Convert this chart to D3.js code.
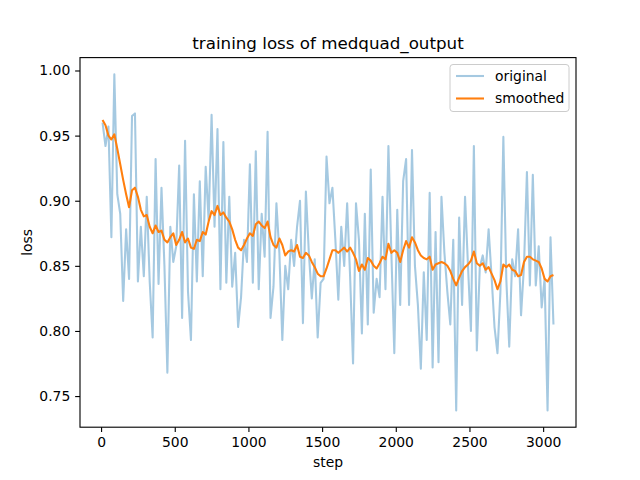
<!DOCTYPE html>
<html><head><meta charset="utf-8">
<script src="https://cdn.jsdelivr.net/npm/d3@7"></script>
<style>body{margin:0;background:#fff}svg{display:block}text{font-family:"DejaVu Sans",sans-serif}</style>
</head><body><svg id="c" width="640" height="480"></svg>
<script>
const titleText = "training loss of medquad_output";
const xLabel = "step";
const yLabel = "loss";
const stepStart = 10, stepEvery = 20;
const original = [
0.960,0.942,0.957,0.872,0.997,0.905,0.890,0.823,0.878,0.840,
0.965,0.967,0.838,0.880,0.842,0.903,0.838,0.795,0.932,0.836,
0.910,0.850,0.768,0.880,0.853,0.865,0.927,0.810,0.946,0.830,
0.793,0.905,0.838,0.915,0.842,0.926,0.885,0.966,0.880,0.955,
0.832,0.945,0.837,0.903,0.834,0.860,0.803,0.826,0.870,0.853,
0.928,0.837,0.938,0.832,0.890,0.857,0.953,0.810,0.834,0.898,
0.860,0.793,0.850,0.832,0.870,0.850,0.880,0.900,0.806,0.907,
0.860,0.825,0.855,0.795,0.837,0.840,0.934,0.898,0.910,0.870,
0.824,0.880,0.850,0.898,0.842,0.775,0.898,0.870,0.798,0.890,
0.805,0.924,0.814,0.840,0.826,0.903,0.832,0.942,0.860,0.783,
0.893,0.820,0.915,0.932,0.820,0.939,0.850,0.820,0.771,0.845,
0.793,0.906,0.772,0.876,0.776,0.903,0.860,0.830,0.805,0.870,
0.739,0.887,0.820,0.903,0.850,0.800,0.942,0.785,0.849,0.858,
0.845,0.878,0.842,0.803,0.783,0.830,0.949,0.840,0.788,0.855,
0.842,0.878,0.812,0.850,0.922,0.835,0.920,0.835,0.865,0.818,
0.840,0.739,0.872,0.805];
const smoothed = [
0.962,0.958,0.950,0.947,0.951,0.940,0.928,0.916,0.905,0.895,
0.908,0.910,0.903,0.893,0.888,0.889,0.880,0.875,0.881,0.876,
0.877,0.870,0.868,0.872,0.875,0.866,0.870,0.876,0.868,0.871,
0.864,0.863,0.870,0.869,0.876,0.874,0.884,0.892,0.889,0.896,
0.889,0.891,0.887,0.884,0.878,0.870,0.864,0.862,0.866,0.871,
0.875,0.873,0.882,0.884,0.881,0.879,0.884,0.872,0.866,0.864,
0.871,0.866,0.858,0.861,0.862,0.861,0.866,0.857,0.856,0.860,
0.858,0.853,0.849,0.844,0.842,0.842,0.848,0.855,0.862,0.862,
0.860,0.862,0.864,0.861,0.864,0.860,0.855,0.846,0.851,0.847,
0.856,0.854,0.850,0.848,0.852,0.857,0.855,0.867,0.860,0.862,
0.860,0.853,0.862,0.869,0.864,0.872,0.868,0.862,0.858,0.856,
0.855,0.857,0.847,0.851,0.852,0.853,0.852,0.850,0.846,0.840,
0.835,0.841,0.846,0.849,0.851,0.854,0.861,0.852,0.850,0.852,
0.847,0.849,0.844,0.839,0.832,0.838,0.851,0.849,0.851,0.847,
0.846,0.842,0.843,0.853,0.857,0.857,0.855,0.854,0.853,0.848,
0.840,0.838,0.842,0.843];
const xTicks = [0,500,1000,1500,2000,2500,3000];
const yTicks = [0.75,0.80,0.85,0.90,0.95,1.00];
const seriesNames = ["original","smoothed"];

const svg = d3.select("#c");
const L=80, R=576, T=57.6, B=427.2;
const stepOf = i => stepStart + stepEvery*i;
const xs = original.map((d,i)=>stepOf(i)).concat(smoothed.map((d,i)=>stepOf(i)));
const xe = d3.extent(xs), xm = (xe[1]-xe[0])*0.05;
const allY = original.concat(smoothed);
const ye = d3.extent(allY), ym = (ye[1]-ye[0])*0.05;
const x = d3.scaleLinear().domain([xe[0]-xm, xe[1]+xm]).range([L,R]);
const y = d3.scaleLinear().domain([ye[0]-ym, ye[1]+ym]).range([B,T]);

const g = svg.append("g");
const clip = svg.append("clipPath").attr("id","pc").append("rect").attr("x",L).attr("y",T).attr("width",R-L).attr("height",B-T);
const line = d3.line().x((d,i)=>x(stepOf(i))).y(d=>y(d));
g.append("path").datum(original).attr("d",line).attr("fill","none").attr("stroke","#1f77b4").attr("stroke-opacity",0.4).attr("stroke-width",1.5*100/72).attr("stroke-linejoin","round").attr("clip-path","url(#pc)");
g.append("path").datum(smoothed).attr("d",line).attr("fill","none").attr("stroke","#ff7f0e").attr("stroke-width",1.5*100/72).attr("stroke-linejoin","round").attr("clip-path","url(#pc)");

const xa = svg.append("g").attr("transform",`translate(0,${B})`).call(d3.axisBottom(x).tickValues(xTicks).tickFormat(d3.format("d")).tickSize(4.86).tickPadding(4.9));
const ya = svg.append("g").attr("transform",`translate(${L},0)`).call(d3.axisLeft(y).tickValues(yTicks).tickFormat(d3.format(".2f")).tickSize(4.86).tickPadding(4.9));
[xa,ya].forEach(a=>{a.select(".domain").remove();a.selectAll("text").attr("font-size","13.9px").attr("fill","#000").style("font-family","DejaVu Sans");a.selectAll("line").attr("stroke","#000").attr("stroke-width",0.8*100/72);});
svg.append("rect").attr("x",L).attr("y",T).attr("width",R-L).attr("height",B-T).attr("fill","none").attr("stroke","#000").attr("stroke-width",0.8*100/72);

svg.append("text").attr("x",(L+R)/2).attr("y",49).attr("text-anchor","middle").attr("font-size","16.7px").text(titleText);
svg.append("text").attr("x",(L+R)/2).attr("y",467).attr("text-anchor","middle").attr("font-size","13.9px").text(xLabel);
svg.append("text").attr("transform",`translate(32,${(T+B)/2}) rotate(-90)`).attr("text-anchor","middle").attr("font-size","13.9px").text(yLabel);

const lg = svg.append("g");
lg.append("rect").attr("x",450).attr("y",64.5).attr("width",119).attr("height",47).attr("rx",3).attr("fill","#fff").attr("fill-opacity",0.8).attr("stroke","#cccccc").attr("stroke-width",1);
const colors=["#1f77b4","#ff7f0e"], ops=[0.4,1];
seriesNames.forEach((n,i)=>{
  const yy = 76 + i*22.5;
  lg.append("line").attr("x1",456).attr("x2",484).attr("y1",yy).attr("y2",yy).attr("stroke",colors[i]).attr("stroke-opacity",ops[i]).attr("stroke-width",1.5*100/72);
  lg.append("text").attr("x",495).attr("y",yy+4.8).attr("font-size","13.9px").text(n);
});
</script></body></html>
